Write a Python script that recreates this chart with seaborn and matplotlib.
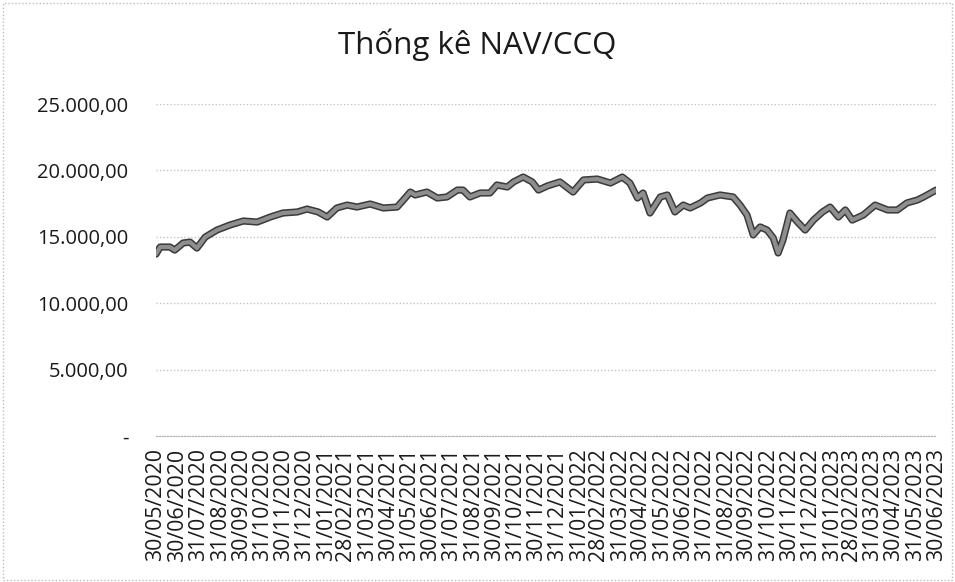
import pandas as pd
import matplotlib
matplotlib.use("Agg")
import matplotlib.pyplot as plt
import matplotlib.patheffects as pe
import matplotlib.ticker as mticker
import seaborn as sns

# NAV per fund unit
dates = [
    "2020-05-30", "2020-06-05", "2020-06-19", "2020-06-26", "2020-07-08", "2020-07-18",
    "2020-07-28", "2020-08-09", "2020-08-26", "2020-09-14", "2020-10-03", "2020-10-23",
    "2020-11-11", "2020-11-29", "2020-12-20", "2021-01-03", "2021-01-19", "2021-02-01",
    "2021-02-15", "2021-03-02", "2021-03-16", "2021-04-04", "2021-04-23", "2021-05-13",
    "2021-05-22", "2021-06-01", "2021-06-08", "2021-06-25", "2021-07-10", "2021-07-24",
    "2021-08-08", "2021-08-16", "2021-08-26", "2021-09-10", "2021-09-24", "2021-10-04",
    "2021-10-19", "2021-10-28", "2021-11-11", "2021-11-24", "2021-12-03", "2021-12-16",
    "2022-01-03", "2022-01-22", "2022-02-06", "2022-02-26", "2022-03-17", "2022-04-03",
    "2022-04-14", "2022-04-25", "2022-05-03", "2022-05-13", "2022-05-28", "2022-06-07",
    "2022-06-18", "2022-06-30", "2022-07-10", "2022-07-25", "2022-08-04", "2022-08-22",
    "2022-09-10", "2022-09-20", "2022-09-30", "2022-10-09", "2022-10-19", "2022-10-29",
    "2022-11-07", "2022-11-14", "2022-11-21", "2022-12-01", "2022-12-12", "2022-12-23",
    "2023-01-04", "2023-01-17", "2023-01-28", "2023-02-09", "2023-02-19", "2023-03-01",
    "2023-03-17", "2023-04-03", "2023-04-21", "2023-05-05", "2023-05-19", "2023-06-03",
    "2023-06-12", "2023-06-30",
]
nav = [
    13700, 14230, 14230, 14000, 14530, 14600,
    14150, 14980, 15510, 15890, 16190, 16110,
    16490, 16790, 16870, 17090, 16870, 16490,
    17170, 17390, 17240, 17470, 17170, 17240,
    17770, 18370, 18150, 18370, 17920, 18000,
    18520, 18520, 18000, 18300, 18300, 18900,
    18750, 19130, 19500, 19130, 18520, 18830,
    19130, 18370, 19280, 19350, 19050, 19500,
    19050, 17920, 18300, 16790, 18000, 18150,
    16870, 17390, 17170, 17550, 17920, 18150,
    18000, 17390, 16640, 15140, 15740, 15510,
    14910, 13780, 14760, 16790, 16110, 15510,
    16260, 16870, 17240, 16490, 17020, 16260,
    16640, 17390, 17020, 17020, 17550, 17770,
    18000, 18520,
]

tick_labels = [
    "30/05/2020", "30/06/2020", "31/07/2020", "31/08/2020", "30/09/2020", "31/10/2020",
    "30/11/2020", "31/12/2020", "31/01/2021", "28/02/2021", "31/03/2021", "30/04/2021",
    "31/05/2021", "30/06/2021", "31/07/2021", "31/08/2021", "30/09/2021", "31/10/2021",
    "30/11/2021", "31/12/2021", "31/01/2022", "28/02/2022", "31/03/2022", "30/04/2022",
    "31/05/2022", "30/06/2022", "31/07/2022", "31/08/2022", "30/09/2022", "31/10/2022",
    "30/11/2022", "31/12/2022", "31/01/2023", "28/02/2023", "31/03/2023", "30/04/2023",
    "31/05/2023", "30/06/2023",
]

df = pd.DataFrame({"date": pd.to_datetime(dates), "nav": nav})
tick_dates = pd.to_datetime(tick_labels, format="%d/%m/%Y")

sns.set_style("white")
plt.rcParams["font.family"] = ["Open Sans", "DejaVu Sans"]

fig = plt.figure(figsize=(9.55, 5.82), dpi=100)
ax = fig.add_axes([0.1634, 0.2509, 0.8168, 0.5704])

sns.lineplot(data=df, x="date", y="nav", ax=ax, color="#8e8e8e", linewidth=3.0,
             path_effects=[pe.Stroke(linewidth=5.2, foreground="#3a3a3a"), pe.Normal()])

ax.set_ylim(0, 25000)
ax.set_xlim(df["date"].iloc[0], df["date"].iloc[-1])
ax.set_yticks([0, 5000, 10000, 15000, 20000, 25000])


def vn_fmt(v, pos):
    if v == 0:
        return "-"
    return f"{v:,.2f}".replace(",", "X").replace(".", ",").replace("X", ".")


ax.yaxis.set_major_formatter(mticker.FuncFormatter(vn_fmt))
ax.set_xticks(tick_dates)
ax.set_xticklabels(tick_labels, rotation=90)

ax.grid(axis="y", color="#c4c4c4", linestyle=(0, (1, 1.5)), linewidth=1)
ax.grid(axis="x", visible=False)
for side in ["top", "right", "left"]:
    ax.spines[side].set_visible(False)
ax.spines["bottom"].set_color("#b0b0b0")
ax.spines["bottom"].set_linestyle((0, (1, 1.5)))

ax.tick_params(axis="y", length=0, pad=20, labelsize=14.5, labelcolor="#1a1a1a")
ax.tick_params(axis="x", length=4, width=0.8, color="#b0b0b0", pad=5,
               labelsize=15.3, labelcolor="#1a1a1a")
ax.set_xlabel("")
ax.set_ylabel("")

fig.text(0.5, 0.923, "Thống kê NAV/CCQ", ha="center", va="center",
         fontsize=22.5, color="#1a1a1a")

# dotted chart border
fig.patches.append(plt.Rectangle((0.003, 0.004), 0.994, 0.99, transform=fig.transFigure,
                                 fill=False, edgecolor="#bdbdbd", linestyle=(0, (1, 1.5)),
                                 linewidth=1))

fig.savefig("out.png", dpi=100)
